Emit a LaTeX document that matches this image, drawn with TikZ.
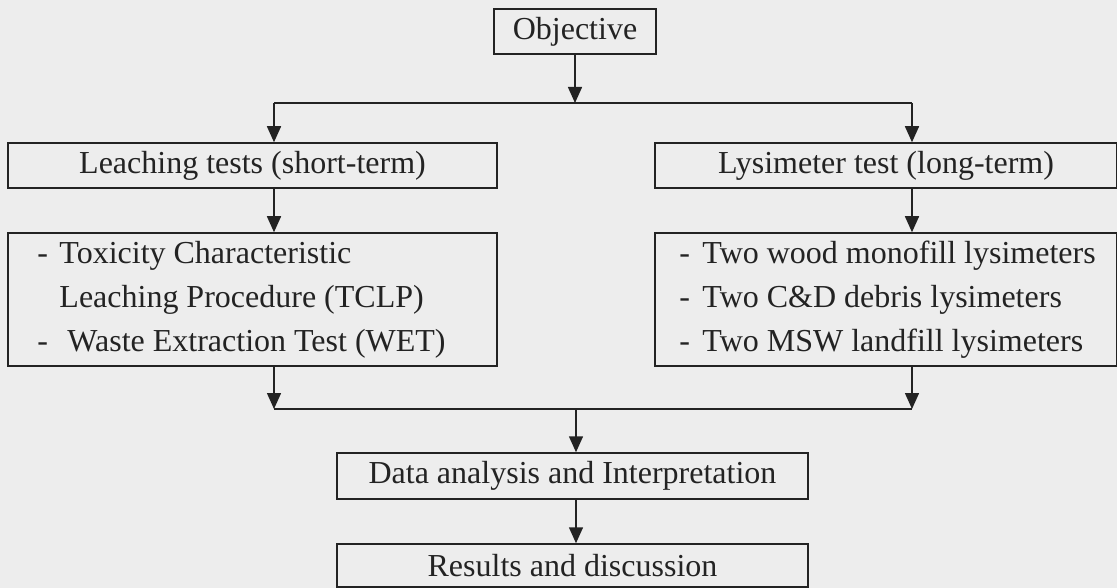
\documentclass[tikz,border=0pt]{standalone}
\usepackage{fontspec}
\setmainfont{Liberation Serif}
\usetikzlibrary{arrows.meta}
\definecolor{bg}{RGB}{237,237,237}
\definecolor{ink}{RGB}{35,35,35}
\tikzset{
  box/.style={draw=ink, line width=1.5pt, inner sep=0pt, font=\fontsize{32}{40}\selectfont, text=ink},
  listtext/.style={inner sep=0pt, align=left, font=\fontsize{32}{44}\selectfont, text=ink},
  conn/.style={draw=ink, line width=1.5pt},
  arr/.style={conn, -{Triangle[length=16pt,width=14pt]}}
}
\begin{document}
\begin{tikzpicture}[x=1pt,y=-1pt]
\fill[bg] (0,0) rectangle (1117,588);
\useasboundingbox (0,0) rectangle (1117,588);

\node[box, minimum width=162pt, minimum height=45pt] (obj) at (575,31.5) {Objective};
\node[box, minimum width=489pt, minimum height=45pt] (leach) at (252.5,165.5) {Leaching tests (short-term)};
\node[box, minimum width=462pt, minimum height=45pt] (lysi) at (886,165.5) {Lysimeter test (long-term)};
\node[box, minimum width=489pt, minimum height=133pt] (ldet) at (252.5,299.5) {};
\node[box, minimum width=462pt, minimum height=133pt] (rdet) at (886,299.5) {};
\node[box, minimum width=471pt, minimum height=46pt] (data) at (572.5,476) {Data analysis and Interpretation};
\node[box, minimum width=471pt, minimum height=43pt] (res) at (572.5,565.5) {Results and discussion};

\node[listtext, anchor=west] (ltxt) at ([xshift=30pt]ldet.west)
  {\makebox[22pt][l]{-}Toxicity Characteristic\\
   \hspace*{22pt}Leaching Procedure (TCLP)\\
   \makebox[30pt][l]{-}Waste Extraction Test (WET)};
\node[listtext, anchor=west] (rtxt) at ([xshift=25pt]rdet.west)
  {\makebox[23pt][l]{-}Two wood monofill lysimeters\\
   \makebox[23pt][l]{-}Two C\&D debris lysimeters\\
   \makebox[23pt][l]{-}Two MSW landfill lysimeters};

\coordinate (jt) at (575,103);
\coordinate (tl) at (274,103);
\coordinate (tr) at (912,103);
\coordinate (bl) at (274,409);
\coordinate (br) at (912,409);
\coordinate (bm) at (576,409);

\draw[arr] (obj.south) -- (jt);
\draw[conn] (tl) -- (tr);
\draw[arr] (tl) -- (tl |- leach.north);
\draw[arr] (tr) -- (tr |- lysi.north);
\draw[arr] (tl |- leach.south) -- (tl |- ldet.north);
\draw[arr] (tr |- lysi.south) -- (tr |- rdet.north);
\draw[arr] (tl |- ldet.south) -- (bl);
\draw[arr] (tr |- rdet.south) -- (br);
\draw[conn] (bl) -- (br);
\draw[arr] (bm) -- (bm |- data.north);
\draw[arr] (bm |- data.south) -- (bm |- res.north);
\end{tikzpicture}
\end{document}
